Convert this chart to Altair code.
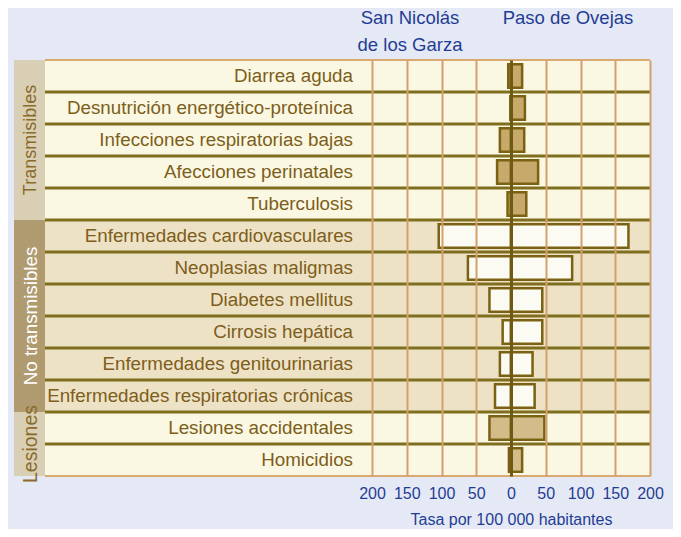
import altair as alt
import pandas as pd

# ---------------- data ----------------
categories = [
    "Diarrea aguda",
    "Desnutrición energético-proteínica",
    "Infecciones respiratorias bajas",
    "Afecciones perinatales",
    "Tuberculosis",
    "Enfermedades cardiovasculares",
    "Neoplasias maligmas",
    "Diabetes mellitus",
    "Cirrosis hepática",
    "Enfermedades genitourinarias",
    "Enfermedades respiratorias crónicas",
    "Lesiones accidentales",
    "Homicidios",
]
group_names = ["Transmisibles", "No transmisibles", "Lesiones"]
group_sizes = [5, 6, 2]
san_nicolas = [4, 1, 16, 20, 5, 104, 62, 31, 12, 16, 23, 31, 3]
paso_de_ovejas = [16, 20, 19, 39, 22, 169, 88, 45, 45, 31, 34, 48, 16]
series_names = ["San Nicolás de los Garza", "Paso de Ovejas"]
header_left = ["San Nicolás", "de los Garza"]
header_right = ["Paso de Ovejas"]
tick_values = [-200, -150, -100, -50, 0, 50, 100, 150, 200]
axis_title = "Tasa por 100 000 habitantes"

# ---------------- tables ----------------
groups = []
for g, n in zip(group_names, group_sizes):
    groups += [g] * n
rows_df = pd.DataFrame({"category": categories, "group": groups, "idx": list(range(len(categories)))})

bar_rows = []
for c, g, a, b in zip(categories, groups, san_nicolas, paso_de_ovejas):
    bar_rows.append({"category": c, "group": g, "serie": series_names[0], "value": -a})
    bar_rows.append({"category": c, "group": g, "serie": series_names[1], "value": b})
bars_df = pd.DataFrame(bar_rows)

gstart, gend = [], []
acc = 0
for n in group_sizes:
    gstart.append(acc)
    acc += n
    gend.append(acc)
groups_df = pd.DataFrame({"group": group_names, "start": gstart, "end": gend,
                          "mid": [(s + e) / 2 for s, e in zip(gstart, gend)]})

# ---------------- style ----------------
FONT = "Liberation Sans"
BG = "#e5e9f5"
BLUE = "#1f3d94"
LABEL = "#7d5e1a"
SEP = "#7f6e1e"
GRID = "#d3a06c"
CENTER = "#6e5a12"
BAR_STROKE = "#7a6212"
row_bg_colors = ["#faf8e3", "#eee2c6", "#faf8e3"]
bar_colors = ["#c7a96b", "#fcfbf3", "#d4bc8a"]
box_colors = ["#d9cfb4", "#b09b70", "#d9cfb4"]
box_text_colors = ["#8b6b2a", "#ffffff", "#8b6b2a"]
box_text_sizes = [18, 19.5, 16]

W_A, W_B, W_C, H = 31, 327, 278, 416
N = len(categories)

# ---------------- panel A: group boxes ----------------
yq = alt.Scale(domain=[0, N], reverse=True, nice=False, zero=False)
a_rect = alt.Chart(groups_df).mark_rect().encode(
    y=alt.Y("start:Q", scale=yq, axis=None),
    y2="end:Q",
    x=alt.value(0),
    x2=alt.value(W_A),
    fill=alt.Fill("group:N", scale=alt.Scale(domain=group_names, range=box_colors), legend=None),
)
a_text = alt.Chart(groups_df).mark_text(angle=270, font=FONT, baseline="middle", align="center").encode(
    y=alt.Y("mid:Q", scale=yq, axis=None),
    x=alt.value(W_A / 2 + 1),
    text="group:N",
    color=alt.Color("group:N", scale=alt.Scale(domain=group_names, range=box_text_colors), legend=None),
    size=alt.Size("group:N", scale=alt.Scale(domain=group_names, range=box_text_sizes), legend=None),
)
panel_a = alt.layer(a_rect, a_text).properties(width=W_A, height=H)

# ---------------- shared y ----------------
def ycat(band_pos=None):
    kw = {}
    if band_pos is not None:
        kw["bandPosition"] = band_pos
    return alt.Y("category:N", axis=None,
                 scale=alt.Scale(domain=categories, paddingInner=0, paddingOuter=0), **kw)

def backgrounds(width):
    return alt.Chart(rows_df).mark_rect().encode(
        y=ycat(),
        x=alt.value(0),
        x2=alt.value(width),
        fill=alt.Fill("group:N", scale=alt.Scale(domain=group_names, range=row_bg_colors), legend=None),
    )

def separators():
    return alt.Chart(rows_df).transform_filter(alt.datum.idx < N - 1).mark_rule(
        color=SEP, strokeWidth=3).encode(y=ycat(1))

def borders():
    top = alt.Chart(rows_df).transform_filter(alt.datum.idx == 0).mark_rule(
        color="#d9aa70", strokeWidth=2).encode(y=ycat(0))
    bot = alt.Chart(rows_df).transform_filter(alt.datum.idx == N - 1).mark_rule(
        color="#d9aa70", strokeWidth=2).encode(y=ycat(1))
    return [top, bot]

# ---------------- panel B: row labels ----------------
b_text = alt.Chart(rows_df).mark_text(align="right", baseline="middle", fontSize=18.8, font=FONT, color=LABEL).encode(
    y=ycat(),
    x=alt.value(W_B - 19),
    text="category:N",
)
panel_b = alt.layer(backgrounds(W_B), separators(), *borders(), b_text).properties(width=W_B, height=H)

# ---------------- panel C: bars ----------------
x_axis = alt.Axis(
    values=tick_values,
    labelExpr="abs(datum.value)",
    labelOverlap=False,
    labelFlush=False,
    labelFontSize=16,
    labelFont=FONT,
    labelColor=BLUE,
    labelPadding=9,
    domain=False,
    ticks=False,
    grid=True,
    gridColor=alt.condition("datum.value === 0", alt.value(CENTER), alt.value(GRID)),
    gridWidth=alt.condition("datum.value === 0", alt.value(3), alt.value(2)),
    zindex=1,
    title=axis_title,
    titleFont=FONT,
    titleFontSize=16,
    titleFontWeight="normal",
    titleColor=BLUE,
    titlePadding=10,
)
x_enc = alt.X("value:Q", stack=None, scale=alt.Scale(domain=[-200, 200], nice=False, zero=False), axis=x_axis)

c_bars = alt.Chart(bars_df).mark_bar(
    height=alt.RelativeBandSize(band=0.74), stroke=BAR_STROKE, strokeWidth=2.5
).encode(
    y=ycat(),
    x=x_enc,
    fill=alt.Fill("group:N", scale=alt.Scale(domain=group_names, range=bar_colors), legend=None),
)

h1 = alt.Chart(pd.DataFrame({"t": [header_left[0]]})).mark_text(
    fontSize=18.5, font=FONT, color=BLUE, align="center", baseline="middle").encode(
    text="t:N", x=alt.value(38), y=alt.value(-42.5))
h2 = alt.Chart(pd.DataFrame({"t": [header_left[1]]})).mark_text(
    fontSize=18.5, font=FONT, color=BLUE, align="center", baseline="middle").encode(
    text="t:N", x=alt.value(38), y=alt.value(-15))
h3 = alt.Chart(pd.DataFrame({"t": header_right})).mark_text(
    fontSize=18.5, font=FONT, color=BLUE, align="center", baseline="middle").encode(
    text="t:N", x=alt.value(196), y=alt.value(-42.5))

panel_c = alt.layer(backgrounds(W_C), separators(), *borders(), c_bars, h1, h2, h3).resolve_scale(
    fill="independent").properties(width=W_C, height=H)

chart = alt.hconcat(panel_a, panel_b, panel_c, spacing=0, bounds="flush").resolve_scale(
    y="independent", x="independent", fill="independent", color="independent", size="independent"
).properties(
    background=BG,
    padding={"left": 6, "top": 0, "right": 9, "bottom": 2},
).configure_view(strokeWidth=0)

chart.save("out.html", embed_options={"renderer": "svg", "actions": False})
